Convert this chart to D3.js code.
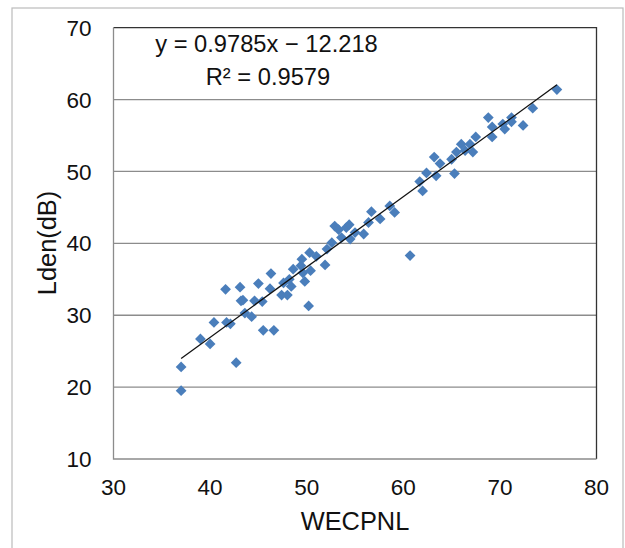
<!DOCTYPE html>
<html>
<head>
<meta charset="utf-8">
<script src="https://cdn.jsdelivr.net/npm/d3@7"></script>
<style>
  body { margin: 0; background: #fff; }
  text { font-family: "Liberation Sans", Arial, sans-serif; fill: #111; }
</style>
</head>
<body>
<script>
// WECPNL (x) vs Lden (y)
const wecpnl = [37.0, 37.0, 39.0, 40.0, 40.4, 41.6, 41.7, 42.1, 42.7, 43.1,
  43.2, 43.4, 43.6, 44.3, 44.6, 45.0, 45.4, 45.5, 46.2, 46.3,
  46.6, 47.4, 47.6, 48.0, 48.2, 48.4, 48.6, 49.4, 49.5, 49.6,
  49.8, 50.2, 50.3, 50.4, 51.0, 51.9, 52.1, 52.6, 52.9, 53.3,
  53.6, 54.1, 54.4, 54.5, 55.0, 55.9, 56.4, 56.7, 57.6, 58.6,
  59.1, 60.7, 61.7, 62.0, 62.4, 63.2, 63.4, 63.8, 65.0, 65.3,
  65.5, 66.0, 66.4, 66.9, 67.2, 67.5, 68.8, 69.2, 69.2, 70.3,
  70.5, 71.2, 71.2, 72.4, 73.4, 75.9];
const lden = [22.8, 19.5, 26.7, 26.0, 29.0, 33.6, 29.0, 28.8, 23.4, 33.9,
  32.0, 32.1, 30.3, 29.8, 32.0, 34.4, 31.9, 27.9, 33.7, 35.8,
  27.9, 32.8, 34.5, 32.8, 35.0, 34.0, 36.4, 36.9, 37.8, 35.9,
  34.7, 31.3, 38.7, 36.2, 38.2, 37.0, 39.2, 40.1, 42.4, 41.9,
  40.8, 42.2, 42.6, 40.6, 41.5, 41.3, 42.9, 44.4, 43.4, 45.2,
  44.3, 38.3, 48.6, 47.3, 49.8, 52.0, 49.4, 51.1, 51.7, 49.7,
  52.7, 53.8, 52.9, 53.8, 52.7, 54.8, 57.5, 56.2, 54.8, 56.6,
  55.9, 57.5, 56.9, 56.4, 58.8, 61.4];

const xTicks = [30, 40, 50, 60, 70, 80];
const yTicks = [10, 20, 30, 40, 50, 60, 70];
const slope = 0.9785, intercept = -12.218;
const eqLabel = "y = 0.9785x \u2212 12.218";
const r2Label = "R\u00b2 = 0.9579";

const W = 625, H = 548;
const plot = { left: 113.5, right: 596.5, top: 27.7, bottom: 459 };

const svg = d3.select("body").append("svg")
  .attr("width", W).attr("height", H);

// outer chart frame
svg.append("rect")
  .attr("x", 12).attr("y", 8)
  .attr("width", 611).attr("height", 560)
  .attr("fill", "#fff").attr("stroke", "#bbb").attr("stroke-width", 1.2);

const x = d3.scaleLinear().domain([30, 80]).range([plot.left, plot.right]);
const y = d3.scaleLinear().domain([10, 70]).range([plot.bottom, plot.top]);

// horizontal gridlines
svg.append("g")
  .selectAll("line")
  .data(yTicks.slice(1, -1))
  .enter().append("line")
  .attr("x1", plot.left).attr("x2", plot.right)
  .attr("y1", d => y(d)).attr("y2", d => y(d))
  .attr("stroke", "#8c8c8c").attr("stroke-width", 1.3);

// plot frame: top/right dark, axes gray
svg.append("path")
  .attr("d", `M${plot.left},${plot.top}H${plot.right}V${plot.bottom}`)
  .attr("fill", "none").attr("stroke", "#333").attr("stroke-width", 1.3);
svg.append("path")
  .attr("d", `M${plot.left},${plot.top}V${plot.bottom}H${plot.right}`)
  .attr("fill", "none").attr("stroke", "#8c8c8c").attr("stroke-width", 1.3);

// tick labels
svg.append("g")
  .selectAll("text")
  .data(yTicks)
  .enter().append("text")
  .attr("x", plot.left - 22).attr("y", d => y(d))
  .attr("dy", "0.36em")
  .attr("text-anchor", "end")
  .attr("font-size", 22.5)
  .text(d => d);

svg.append("g")
  .selectAll("text")
  .data(xTicks)
  .enter().append("text")
  .attr("x", d => x(d)).attr("y", plot.bottom + 28)
  .attr("dy", "0.36em")
  .attr("text-anchor", "middle")
  .attr("font-size", 22.5)
  .text(d => d);

// axis titles
svg.append("text")
  .attr("x", 355).attr("y", 521)
  .attr("dy", "0.36em")
  .attr("text-anchor", "middle")
  .attr("font-size", 25.4)
  .text("WECPNL");

svg.append("text")
  .attr("transform", "translate(47,243) rotate(-90)")
  .attr("dy", "0.36em")
  .attr("text-anchor", "middle")
  .attr("font-size", 25.4)
  .text("Lden(dB)");

// points (square rotated into a diamond)
const pts = wecpnl.map((d, i) => ({ x: d, y: lden[i] }));
svg.append("g")
  .selectAll("path")
  .data(pts)
  .enter().append("path")
  .attr("d", d3.symbol(d3.symbolSquare, 58)())
  .attr("transform", d => `translate(${x(d.x)},${y(d.y)}) rotate(45)`)
  .attr("fill", "#4a7ebb");

// linear trendline over the data range
const xr = d3.extent(wecpnl);
svg.append("line")
  .attr("x1", x(xr[0])).attr("y1", y(slope * xr[0] + intercept))
  .attr("x2", x(xr[1])).attr("y2", y(slope * xr[1] + intercept))
  .attr("stroke", "#111").attr("stroke-width", 1.3);

// equation labels
svg.append("text")
  .attr("x", 266.5).attr("y", 43)
  .attr("dy", "0.36em")
  .attr("text-anchor", "middle")
  .attr("font-size", 23.7)
  .text(eqLabel);

svg.append("text")
  .attr("x", 268).attr("y", 76)
  .attr("dy", "0.36em")
  .attr("text-anchor", "middle")
  .attr("font-size", 23.7)
  .text(r2Label);
</script>
</body>
</html>
